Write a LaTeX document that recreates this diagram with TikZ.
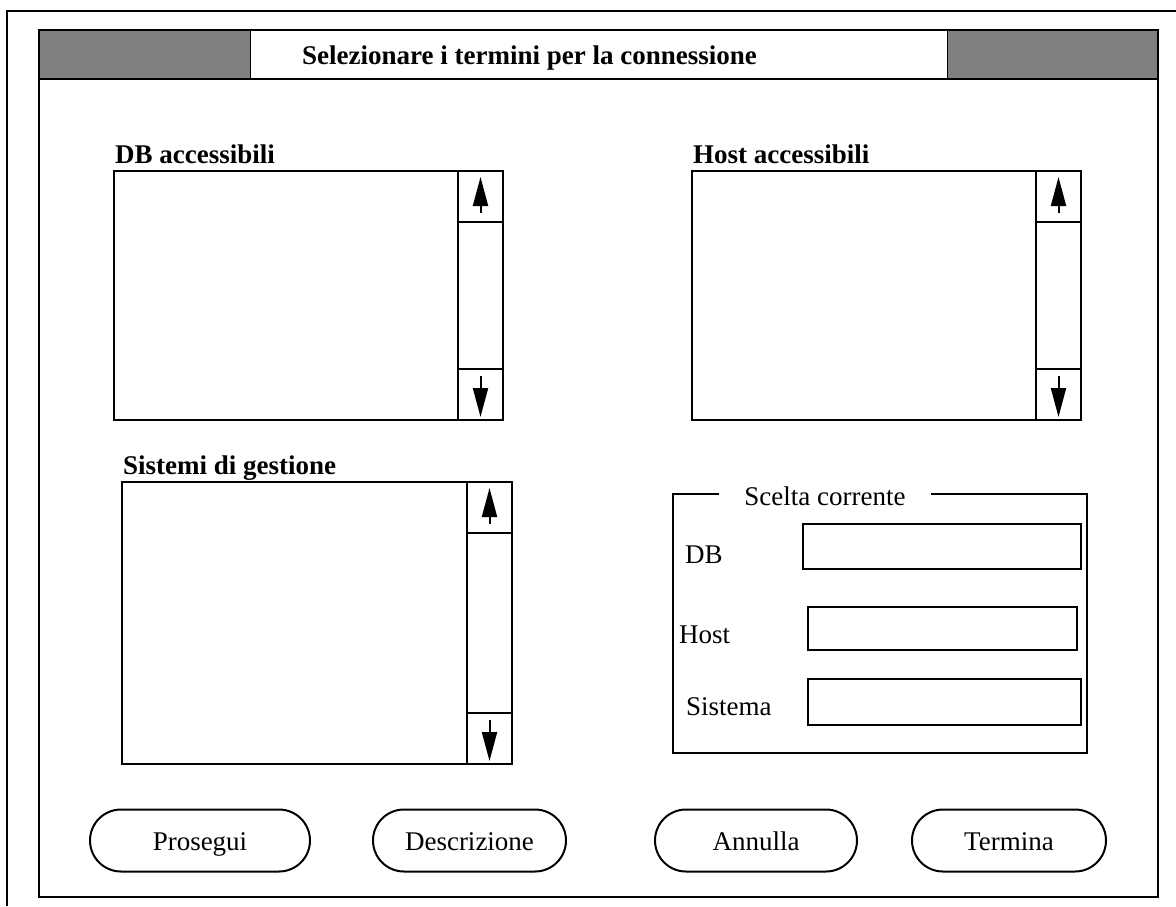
\documentclass[tikz,border=0pt]{standalone}
\usepackage{fontspec}
\setmainfont{Liberation Serif}
\usetikzlibrary{arrows.meta,shapes.misc,calc}

\tikzset{
  txt/.style={font=\fontsize{27}{31}\selectfont, inner sep=0pt},
  txtbold/.style={font=\fontsize{27}{31}\selectfont\bfseries, inner sep=0pt},
  boxline/.style={draw, line width=2pt, inner sep=0pt, outer sep=0pt},
  winline/.style={draw, line width=2.6pt, inner sep=0pt, outer sep=0pt},
  shade/.style={draw, line width=1pt, fill=black!50, inner sep=0pt, outer sep=0pt},
  field/.style={boxline, anchor=north west},
  button/.style={draw, line width=2pt, rounded rectangle, minimum height=62pt,
                 font=\fontsize{27}{31}\selectfont, inner sep=0pt,
                 text height=25pt, text depth=6pt},
  scrollarrow/.style={line width=2pt, -{Triangle[length=29pt,width=15pt]}},
}

% a list box with a vertical scroll bar on its right side
% #1 name, #2 left, #3 top, #4 width, #5 height, #6 caption
\newcommand\scrolllist[6]{%
  \node[boxline, anchor=north west, minimum width=#4pt, minimum height=#5pt] (#1) at (#2,#3) {};
  \node[boxline, anchor=north east, minimum width=45pt, minimum height=#5pt] (#1-bar) at (#1.north east) {};
  \node[boxline, anchor=north, minimum width=45pt, minimum height=51pt] (#1-up) at (#1-bar.north) {};
  \node[boxline, anchor=south, minimum width=45pt, minimum height=51pt] (#1-down) at (#1-bar.south) {};
  \draw[scrollarrow] ($(#1-up.south)+(0,-9)$) -- ($(#1-up.north)+(0,6)$);
  \draw[scrollarrow] ($(#1-down.north)+(0,7)$) -- ($(#1-down.south)+(0,-3)$);
  \node[txtbold, anchor=base west] (#1-caption) at ($(#1.north west)+(1,-8)$) {#6};
}

\begin{document}
\begin{tikzpicture}[x=1pt, y=-1pt]
\useasboundingbox (0,0) rectangle (1176,906);

% outer frame
\draw[line width=2pt] (7,906) -- (7,11) -- (1176,11);

% window with its title bar
\node[shade, anchor=north west, minimum width=211pt, minimum height=49pt] (barleft) at (39,30) {};
\node[shade, anchor=north west, minimum width=211pt, minimum height=49pt] (barright) at (947,30) {};
\node[winline, anchor=north west, minimum width=1119pt, minimum height=867pt] (win) at (39,30) {};
\draw[line width=2.6pt] (barleft.south west) -- (barright.south east);
\node[txtbold, anchor=base west] (title) at (302,64) {Selezionare i termini per la connessione};

% list boxes
\scrolllist{db}{114}{171}{389}{249}{DB accessibili}
\scrolllist{host}{692}{171}{389}{249}{Host accessibili}
\scrolllist{sys}{122}{482}{390}{282}{Sistemi di gestione}

% current choice group
\node[anchor=north west, minimum width=414pt, minimum height=259pt, inner sep=0pt] (scelta) at (673,494) {};
\node[txt, anchor=base, inner xsep=25pt] (sceltatitle) at (825,505) {Scelta corrente};
\draw[line width=2pt] (sceltatitle.west |- scelta.north) -- (scelta.north west) -- (scelta.south west)
  -- (scelta.south east) -- (scelta.north east) -- (sceltatitle.east |- scelta.north);

\node[txt, anchor=base west] (dblabel) at (685,563) {DB};
\node[field, minimum width=278pt, minimum height=45pt] (dbfield) at (803,524) {};
\node[txt, anchor=base west] (hostlabel) at (679,643) {Host};
\node[field, minimum width=269pt, minimum height=43pt] (hostfield) at (808,607) {};
\node[txt, anchor=base west] (syslabel) at (686,715) {Sistema};
\node[field, minimum width=273pt, minimum height=46pt] (sysfield) at (808,679) {};

% buttons
\node[button, minimum width=220pt] (prosegui) at (200,840.5) {Prosegui};
\node[button, minimum width=193pt] (descrizione) at (469.5,840.5) {Descrizione};
\node[button, minimum width=202pt] (annulla) at (756,840.5) {Annulla};
\node[button, minimum width=194pt] (termina) at (1009,840.5) {Termina};
\end{tikzpicture}
\end{document}
